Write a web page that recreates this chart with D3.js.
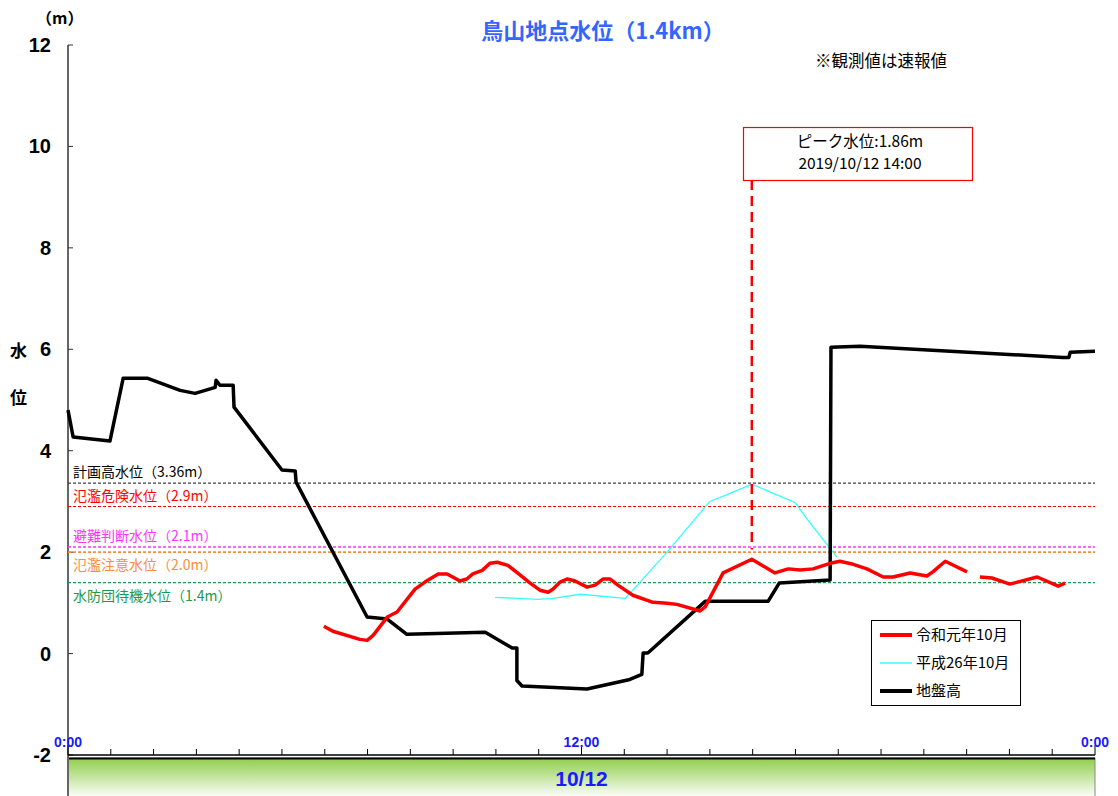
<!DOCTYPE html>
<html><head><meta charset="utf-8">
<script src="https://cdn.jsdelivr.net/npm/d3@7"></script>
<style>
html,body{margin:0;padding:0;background:#fff;}
svg{display:block;font-family:"Noto Sans CJK JP","Noto Sans",sans-serif;}
</style></head>
<body>
<svg id="c" width="1118" height="796"></svg>
<script>
// ---- data ----
const titleText = "鳥山地点水位（1.4km）";
const noteText = "※観測値は速報値";
const yTicks = [-2, 0, 2, 4, 6, 8, 10, 12];
const xTickLabels = [[0, "0:00"], [12, "12:00"], [24, "0:00"]];
const dateLabel = "10/12";

// 令和元年10月 (hours, m); null = gap
const r1Hours = [5.98,6.19,6.82,6.99,7.13,7.46,7.69,8.11,8.34,8.65,8.86,9.16,9.32,9.46,9.68,9.86,10.03,10.28,10.49,10.80,11.03,11.22,11.33,11.50,11.66,11.85,12.13,12.32,12.50,12.67,12.85,13.20,13.67,14.00,14.23,14.77,14.89,15.31,15.98,16.52,16.83,17.11,17.41,17.81,18.04,18.35,18.67,19.05,19.28,19.68,20.07,20.21,20.50,21.01,21.15,21.31,21.59,22.01,22.65,23.14,23.30];
const r1Level = [0.54,0.44,0.28,0.26,0.36,0.72,0.82,1.27,1.41,1.57,1.57,1.43,1.47,1.57,1.64,1.78,1.80,1.74,1.60,1.39,1.25,1.21,1.27,1.41,1.47,1.43,1.31,1.35,1.47,1.47,1.35,1.15,1.01,0.99,0.97,0.84,0.92,1.59,1.86,1.59,1.67,1.65,1.67,1.78,1.82,1.76,1.67,1.51,1.51,1.59,1.53,1.61,1.82,1.61,null,1.51,1.49,1.37,1.51,1.33,1.39];

// 平成26年10月
const h26Hours = [9.98,10.98,11.33,11.97,13.02,13.20,14.00,14.30,15.00,15.47,15.98,16.48,16.99,17.29,17.97];
const h26Level = [1.11,1.07,1.09,1.17,1.09,1.25,2.00,2.30,3.00,3.16,3.34,3.16,2.98,2.63,1.90];

// 地盤高
const gHours = [0,0.12,0.98,1.29,1.85,2.62,2.97,3.44,3.46,3.55,3.86,3.88,5.00,5.31,5.33,6.99,7.46,7.92,9.75,10.38,10.49,10.49,10.61,12.13,13.13,13.41,13.44,13.55,14.89,16.36,16.62,17.81,17.83,18.51,23.25,23.39,23.42,24.0];
const gLevel = [4.80,4.27,4.19,5.43,5.43,5.19,5.13,5.25,5.39,5.29,5.29,4.86,3.62,3.60,3.38,0.72,0.68,0.38,0.42,0.11,0.11,-0.53,-0.64,-0.70,-0.51,-0.41,0.01,0.01,1.03,1.03,1.39,1.45,6.04,6.06,5.84,5.84,5.94,5.96];

// thresholds
const thrNames = ["計画高水位（3.36m）","氾濫危険水位（2.9m）","避難判断水位（2.1m）","氾濫注意水位（2.0m）","水防団待機水位（1.4m）"];
const thrValues = [3.36, 2.9, 2.1, 2.0, 1.4];
const thrColors = ["#404040","#ff0000","#ff33ff","#ff8c3a","#1a9a4a"];
const thrLabelBelow = [false, false, false, true, true];

const peakHour = 15.98;
const peakLines = ["ピーク水位:1.86m", "2019/10/12 14:00"];

const legendNames = ["令和元年10月","平成26年10月","地盤高"];
const legendColors = ["#ff0000","#33ffff","#000000"];
const legendWidths = [4, 1.5, 4];

// ---- drawing ----
const svg = d3.select("#c");
const x = d3.scaleLinear().domain([0, 24]).range([68, 1095]);
const y = d3.scaleLinear().domain([-2, 12]).range([755, 45]);

// bottom band
const defs = svg.append("defs");
const grad = defs.append("linearGradient").attr("id","g").attr("x1",0).attr("y1",0).attr("x2",0).attr("y2",1);
grad.append("stop").attr("offset","0%").attr("stop-color","#8fce4a");
grad.append("stop").attr("offset","100%").attr("stop-color","#ffffff");
svg.append("rect").attr("x", x(0)).attr("y", 758).attr("width", x(24)-x(0)).attr("height", 40)
  .attr("fill","url(#g)").attr("stroke","#888").attr("stroke-width",1);
svg.append("line").attr("x1", x(0)).attr("x2", x(24)).attr("y1", 758.5).attr("y2", 758.5).attr("stroke","#000").attr("stroke-width",2);
svg.append("text").attr("x", x(12)).attr("y", 786).attr("text-anchor","middle")
  .attr("font-family","Liberation Sans Narrow, Liberation Sans, sans-serif").attr("font-size",21).attr("font-weight","bold")
  .attr("fill","#1a1aff").text(dateLabel);

// y axis
svg.append("line").attr("x1", 68).attr("x2", 68).attr("y1", y(12)).attr("y2", 796).attr("stroke","#666").attr("stroke-width",2);
svg.selectAll(".yt").data(yTicks).enter().append("line")
  .attr("x1", 68).attr("x2", 73).attr("y1", d=>y(d)).attr("y2", d=>y(d)).attr("stroke","#333").attr("stroke-width",1);
svg.selectAll(".yl").data(yTicks).enter().append("text")
  .attr("x", 51).attr("y", d=>y(d)+7).attr("text-anchor","end")
  .attr("font-family","Liberation Sans, Arial, sans-serif").attr("font-size",20).attr("font-weight","bold")
  .text(d=>d);
svg.append("text").attr("x", 36).attr("y", 24).attr("text-anchor","start").attr("font-size",16).attr("font-weight","bold").text("（m）");
svg.append("text").attr("x", 10).attr("y", 357).attr("font-size",17).attr("font-weight","bold").text("水");
svg.append("text").attr("x", 10).attr("y", 404).attr("font-size",17).attr("font-weight","bold").text("位");

// x axis
svg.append("line").attr("x1", x(0)).attr("x2", x(24)).attr("y1", 755).attr("y2", 755).attr("stroke","#000").attr("stroke-width",1.5);
svg.selectAll(".xt").data(d3.range(0, 25)).enter().append("line")
  .attr("x1", d=>x(d)).attr("x2", d=>x(d)).attr("y1", 755).attr("y2", d=> d%12===0 ? 745 : 749)
  .attr("stroke","#000").attr("stroke-width",1);
svg.selectAll(".xl").data(xTickLabels).enter().append("text")
  .attr("x", d=>x(d[0])).attr("y", 747).attr("text-anchor","middle")
  .attr("font-family","Liberation Sans Narrow, Liberation Sans, sans-serif").attr("font-size",14).attr("font-weight","bold")
  .attr("fill","#1a1aff").text(d=>d[1]);

// title and note
svg.append("text").attr("x", 603).attr("y", 39).attr("text-anchor","middle").attr("font-size",22).attr("font-weight","bold")
  .attr("fill","#3366ff").text(titleText);
svg.append("text").attr("x", 815).attr("y", 67).attr("font-size",16.5).attr("fill","#000").text(noteText);

// thresholds
thrValues.forEach((v,i)=>{
  svg.append("line").attr("x1", x(0)).attr("x2", x(24)).attr("y1", y(v)).attr("y2", y(v))
    .attr("stroke", thrColors[i]).attr("stroke-width", i===2||i===3 ? 1.6 : 1.2).attr("stroke-dasharray","3,2");
  svg.append("text").attr("x", 73).attr("y", thrLabelBelow[i] ? y(v)+18 : y(v)-6)
    .attr("font-size",14).attr("fill", thrColors[i]==="#404040" ? "#000" : thrColors[i]).text(thrNames[i]);
});

const line = d3.line().defined(d=>d[1]!==null).x(d=>x(d[0])).y(d=>y(d[1]));
const gData = gHours.map((h,i)=>[h, gLevel[i]]);
const hData = h26Hours.map((h,i)=>[h, h26Level[i]]);
const rData = r1Hours.map((h,i)=>[h, r1Level[i]]);

svg.append("path").datum(hData).attr("d", line).attr("fill","none").attr("stroke","#33ffff").attr("stroke-width",1.3);
svg.append("path").datum(gData).attr("d", line).attr("fill","none").attr("stroke","#000").attr("stroke-width",3.5).attr("stroke-linejoin","round");
svg.append("path").datum(rData).attr("d", line).attr("fill","none").attr("stroke","#ff0000").attr("stroke-width",3.5).attr("stroke-linejoin","round");

// peak annotation
svg.append("line").attr("x1", x(peakHour)).attr("x2", x(peakHour)).attr("y1", 180).attr("y2", y(2.05))
  .attr("stroke","#ff0000").attr("stroke-width",2.5).attr("stroke-dasharray","10,6");
svg.append("rect").attr("x", 743.5).attr("y", 127.5).attr("width", 229).attr("height", 53)
  .attr("fill","#fff").attr("stroke","#ff0000").attr("stroke-width",1.2);
peakLines.forEach((t,i)=>{
  svg.append("text").attr("x", 860).attr("y", 147 + i*22).attr("text-anchor","middle").attr("font-size",15.5).text(t);
});

// legend
svg.append("rect").attr("x", 871.5).attr("y", 620.5).attr("width", 149).attr("height", 85)
  .attr("fill","#fff").attr("stroke","#000").attr("stroke-width",1);
legendNames.forEach((n,i)=>{
  const ly = 635 + i*28;
  svg.append("line").attr("x1", 880).attr("x2", 912).attr("y1", ly).attr("y2", ly)
    .attr("stroke", legendColors[i]).attr("stroke-width", legendWidths[i]);
  svg.append("text").attr("x", 916).attr("y", ly+5).attr("font-size",15).text(n);
});
</script>
</body></html>
